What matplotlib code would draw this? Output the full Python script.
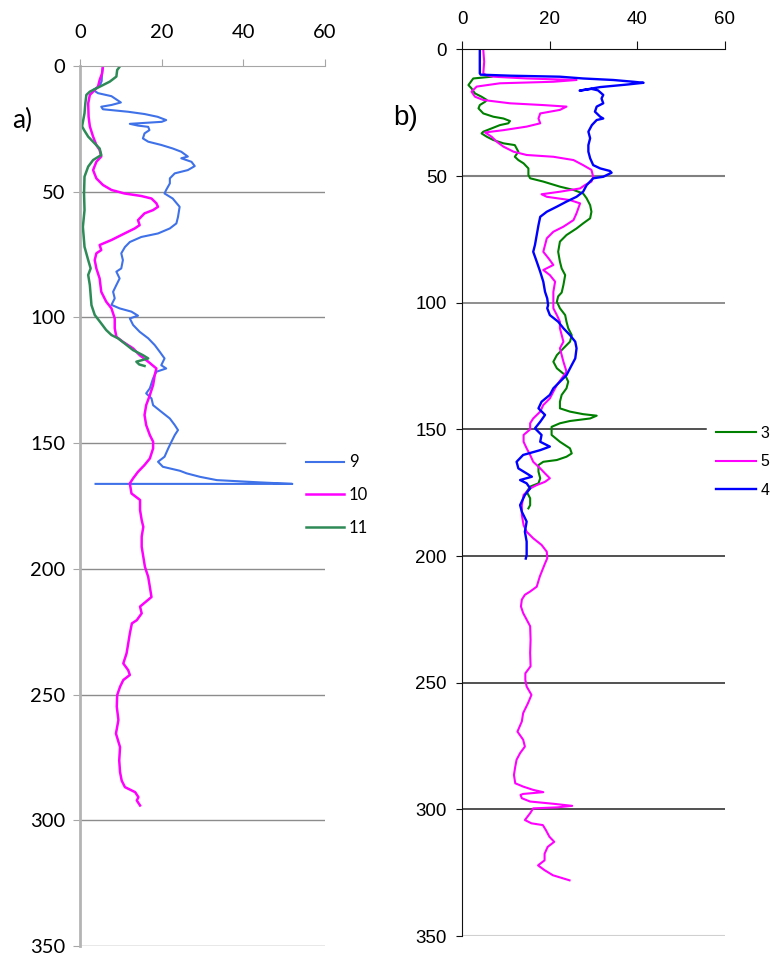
import matplotlib
matplotlib.use('agg')
from matplotlib import pyplot as plt

# ---------------- panel a) : profiles 9, 10, 11 ----------------
a9_val = [5.6, 5.4, 5.3, 4.8, 3.2, 4.4, 7.7, 10.0, 7.7, 5.2, 5.6, 11.8, 15.8, 19.0, 21.1, 20.0,
          12.2, 14.2, 16.7, 17.0, 15.8, 15.4, 16.7, 19.9, 22.7, 24.8, 26.4, 24.8, 27.3, 28.1, 26.4,
          23.2, 22.0, 22.0, 21.1, 20.7, 22.7, 24.4, 24.0, 23.6, 22.0, 19.1, 15.0, 12.2, 11.0, 10.1,
          10.5, 10.1, 8.9, 9.7, 8.9, 8.1, 8.5, 7.7, 9.7, 12.6, 14.2, 12.2, 13.0, 14.6, 16.7, 18.3,
          19.5, 20.7, 19.9, 21.1, 18.7, 17.9, 17.1, 16.2, 17.5, 17.9, 19.9, 22.0, 23.2, 24.0, 23.2,
          22.4, 21.6, 20.7, 19.1, 20.3, 24.5, 26.1, 29.4, 33.5, 44.0, 52.0, 3.8]
a9_dep = [0, 3, 6, 8, 9.5, 10.8, 12, 14.5, 15.5, 16.2, 17.2, 18.2, 19.1, 20.2, 21.5, 22.2,
          23.0, 23.7, 24.2, 25.5, 26.8, 28.8, 30.1, 31.4, 32.8, 34.1, 36.0, 36.7, 38.1, 39.8, 41.4,
          42.7, 44.7, 46.7, 49.3, 50.7, 52.7, 56.0, 60.0, 62.6, 64.6, 66.6, 68.0, 70.0, 72.0, 74.5,
          77.2, 80.5, 81.8, 84.5, 87.1, 89.8, 92.4, 95.0, 96.4, 97.7, 99.3, 100.4, 103.0, 105.7, 108.3, 111.0,
          113.6, 116.3, 119.0, 120.3, 121.6, 124.2, 128.2, 130.2, 132.2, 134.9, 137.5, 140.2, 142.8, 144.8, 146.8,
          149.4, 152.1, 155.4, 157.4, 159.4, 161.0, 162.0, 163.4, 164.7, 165.6, 166.2, 166.2]

a10_val = [5.6, 5.4, 4.8, 4.4, 3.2, 2.4, 2.0, 2.1, 2.4, 3.2, 4.0, 4.8, 5.2, 4.0, 3.2, 4.0, 5.6,
           7.7, 10.9, 15.0, 17.5, 18.7, 19.1, 17.9, 15.8, 14.2, 14.6, 13.4, 10.9, 7.7, 4.8, 5.2, 4.0,
           3.6, 4.0, 4.8, 5.2, 6.4, 7.7, 8.5, 8.5, 8.9, 10.5, 13.0, 14.6, 16.7, 18.7, 18.3, 17.9,
           17.1, 16.2, 15.8, 16.2, 17.1, 17.9, 17.9, 17.1, 15.8, 14.2, 13.0, 12.2, 12.6, 14.7, 14.7,
           15.1, 15.5, 15.1, 15.1, 15.5, 15.9, 16.7, 17.1, 17.5, 14.7, 15.1, 13.9, 12.7, 12.2, 11.8,
           11.4, 10.6, 11.8, 12.2, 10.6, 9.8, 9.1, 9.0, 9.4, 8.8, 9.8, 9.6, 9.8, 10.2, 11.0, 13.5,
           14.3, 13.9, 14.7]
a10_dep = [0.3, 2.9, 5.6, 8.2, 10.2, 11.5, 14.9, 20.2, 24.0, 28.1, 31.4, 33.4, 36.0, 38.1, 41.4, 44.7, 47.3,
           49.3, 50.7, 51.7, 52.7, 54.6, 56.0, 57.3, 58.6, 61.3, 63.3, 64.6, 66.6, 69.2, 71.2, 73.2, 74.5,
           77.2, 80.5, 84.5, 89.8, 93.7, 96.4, 100.4, 104.3, 107.7, 109.7, 112.3, 115.0, 117.6, 120.3, 122.9, 126.9,
           130.9, 134.9, 138.8, 142.8, 146.8, 149.4, 152.1, 156.1, 158.7, 161.4, 164.0, 166.0, 170.0, 172.6, 176.6,
           180.6, 183.3, 187.2, 191.2, 195.2, 199.2, 203.2, 207.2, 211.2, 215.0, 217.7, 220.4, 221.7, 225.7, 229.7,
           233.6, 237.6, 240.3, 242.2, 244.2, 246.9, 250.2, 254.8, 260.1, 265.5, 270.9, 276.2, 280.8, 284.2, 286.8, 288.8,
           290.8, 292.1, 294.1]

a11_val = [9.7, 9.1, 8.9, 7.3, 5.6, 4.0, 2.4, 1.55, 1.3, 1.1, 0.5, 1.0, 2.0, 3.6, 4.8, 5.2, 3.2,
           2.0, 1.1, 0.98, 1.1, 0.7, 1.1, 2.0, 2.6, 2.0, 2.4, 2.6, 2.8, 3.6, 5.2, 6.4, 7.7, 9.3,
           10.9, 13.0, 15.4, 16.7, 13.8, 14.5, 15.8]
a11_dep = [0.3, 1.6, 4.2, 6.2, 7.6, 8.9, 10.2, 11.5, 14.9, 18.8, 24.0, 25.5, 28.1, 30.8, 32.8, 35.4, 37.4,
           40.0, 44.0, 50.7, 57.3, 64.0, 71.9, 77.2, 80.5, 83.1, 87.1, 91.1, 95.1, 99.0, 102.4, 105.0, 107.0, 108.3,
           110.3, 113.0, 115.0, 116.3, 117.6, 118.7, 119.3]

# ---------------- panel b) : profiles 3, 5, 4 ----------------
b3_val = [6.7, 2.5, 1.4, 2.1, 2.9, 4.4, 5.6, 5.2, 4.0, 3.7, 4.8, 7.1, 9.4, 10.9, 10.5, 8.6, 6.7,
          4.8, 4.4, 5.6, 7.1, 9.4, 12.0, 12.8, 12.0, 12.8, 14.0, 15.1, 15.1, 15.5, 18.5, 22.3, 25.4,
          27.6, 28.4, 29.2, 29.5, 29.2, 27.6, 26.1, 23.8, 22.3, 21.9, 22.3, 22.7, 23.5, 23.1, 22.7,
          21.9, 21.6, 22.3, 23.5, 23.8, 24.2, 25.0, 24.6, 23.1, 21.6, 20.8, 21.6, 23.5, 24.2, 23.8,
          22.7, 22.3, 22.3, 24.6, 27.6, 30.7, 29.2, 24.6, 22.3, 20.4, 20.4, 22.3, 24.6, 25.0, 23.8,
          21.6, 18.5, 17.4, 17.4, 17.8, 17.4, 15.5, 14.7, 15.5, 15.5, 15.1]
b3_dep = [10.8, 11.5, 14.1, 15.4, 17.4, 18.7, 20.0, 20.7, 22.0, 23.3, 25.3, 26.6, 27.3, 28.3, 29.2, 29.9, 31.2,
          32.5, 33.2, 34.5, 35.8, 37.1, 37.8, 40.4, 42.4, 43.7, 45.0, 47.0, 49.6, 50.9, 52.2, 54.2, 55.5,
          56.9, 58.8, 61.5, 64.1, 66.7, 68.7, 70.7, 73.3, 75.9, 79.9, 83.8, 86.5, 89.1, 93.0, 96.0,
          97.5, 99.6, 102.2, 104.9, 107.5, 110.1, 112.8, 115.4, 118.0, 120.7, 123.3, 125.9, 128.6, 131.2, 133.8,
          136.4, 139.1, 141.7, 143.0, 144.0, 144.6, 145.7, 146.7, 147.6, 149.0, 152.2, 154.9, 157.5, 159.5, 160.8,
          162.1, 162.8, 164.1, 166.7, 169.3, 171.3, 172.6, 174.6, 177.2, 179.9, 181.2]

b5_val = [4.8, 5.0, 4.8, 5.5, 7.1, 14.7, 26.1, 20.8, 8.6, 3.3, 2.1, 2.9, 4.8, 10.9, 18.5, 23.8,
          22.3, 17.8, 17.4, 17.8, 14.7, 9.4, 5.2, 6.7, 7.9, 9.4, 11.7, 14.7, 20.8, 25.4, 27.6, 29.5,
          29.9, 29.5, 28.0, 26.9, 22.3, 18.1, 19.3, 24.6, 26.9, 26.5, 26.1, 25.4, 23.1, 20.8, 19.3,
          18.9, 18.5, 19.7, 20.8, 18.5, 20.0, 21.2, 20.8, 20.8, 20.8, 21.6, 22.3, 22.3, 22.7, 23.1,
          22.3, 23.1, 23.8, 22.7, 21.6, 20.8, 20.0, 18.5, 17.8, 16.2, 15.5, 15.5, 14.0, 14.0, 14.7,
          15.5, 16.2, 17.8, 18.9, 20.0, 18.9, 17.0, 15.5, 14.0, 13.6, 13.6, 14.0, 14.7, 16.2, 18.1,
          19.3, 19.4, 18.9, 17.7, 17.0, 15.5, 14.3, 13.6, 13.4, 13.9, 14.7, 15.5, 15.6, 15.5, 15.6,
          14.4, 14.4, 14.7, 15.8, 15.0, 13.9, 13.6, 12.6, 13.9, 14.3, 13.2, 12.4, 12.1, 11.8, 12.1,
          13.9, 16.2, 18.5, 13.9, 13.3, 13.6, 15.5, 20.9, 25.1, 21.7, 16.2, 15.5, 14.3, 15.8, 18.4,
          19.1, 19.9, 21.0, 19.5, 18.8, 18.8, 17.3, 18.8, 20.7, 24.5]
b5_dep = [0.3, 4.9, 9.5, 10.2, 10.8, 11.5, 12.1, 12.8, 13.4, 14.7, 16.7, 18.7, 20.0, 21.3, 22.0, 22.6,
          23.9, 25.3, 27.3, 29.2, 30.5, 31.9, 32.8, 34.5, 36.5, 38.4, 40.4, 41.7, 42.4, 43.7, 45.7, 47.6,
          50.3, 52.2, 53.6, 54.9, 56.2, 57.2, 58.2, 59.5, 60.8, 62.8, 64.7, 67.4, 70.0, 72.0, 74.6,
          77.2, 79.9, 82.5, 85.1, 87.1, 89.1, 91.7, 95.7, 98.3, 102.2, 104.9, 107.5, 110.1, 112.8, 115.4,
          118.0, 123.3, 127.2, 129.9, 132.5, 135.1, 137.8, 140.4, 143.0, 145.7, 147.6, 150.0, 152.2, 154.9, 157.5,
          160.1, 162.8, 165.4, 167.4, 169.3, 170.7, 172.0, 173.3, 175.9, 179.9, 183.8, 187.8, 190.4, 193.0, 195.6,
          198.3, 200.9, 202.9, 208.1, 212.1, 214.0, 215.3, 217.2, 219.9, 222.5, 225.1, 227.7, 233.0, 238.2, 243.5,
          246.3, 248.9, 251.5, 254.8, 258.1, 262.0, 265.3, 269.3, 272.5, 275.2, 277.8, 280.4, 283.1, 286.4, 289.7,
          291.0, 292.3, 293.2, 293.9, 294.3, 295.6, 296.9, 297.8, 298.6, 299.2, 299.6, 301.5, 304.2, 305.5, 306.2,
          308.2, 310.8, 312.8, 314.8, 317.5, 320.1, 322.1, 324.0, 326.0, 328.0]

b4_val = [4.0, 4.0, 4.0, 4.2, 10.9, 22.3, 27.6, 34.5, 39.1, 41.4, 37.6, 31.5, 26.8, 29.5, 31.0,
          32.2, 31.8, 32.2, 30.7, 30.3, 31.5, 32.2, 30.7, 29.6, 28.8, 29.2, 28.8, 28.8, 29.2, 29.9,
          31.5, 33.7, 34.1, 32.2, 29.9, 28.4, 27.6, 26.1, 23.8, 21.6, 19.3, 17.8, 17.4, 17.0, 16.6,
          16.2, 17.0, 17.8, 18.5, 18.9, 19.4, 19.6, 19.4, 20.0, 21.9, 23.1, 24.6, 25.8, 26.1, 25.8,
          25.0, 23.8, 22.3, 20.8, 20.0, 18.1, 17.4, 18.9, 17.8, 16.6, 18.1, 17.8, 20.0, 17.8, 13.9,
          12.4, 12.8, 14.7, 15.9, 13.2, 14.7, 15.5, 14.3, 13.2, 13.6, 14.7, 14.3, 14.7, 14.7, 14.5]
b4_dep = [0.3, 5.0, 9.5, 10.0, 10.4, 10.8, 11.5, 12.1, 12.8, 13.2, 13.9, 14.9, 16.3, 15.6, 16.2,
          18.0, 19.4, 21.3, 22.6, 24.6, 26.6, 27.3, 27.9, 29.9, 32.5, 35.1, 37.8, 40.4, 43.0, 45.7,
          47.0, 48.0, 48.7, 50.3, 50.9, 53.6, 56.2, 58.2, 60.1, 62.1, 64.1, 66.1, 69.4, 73.3, 77.2,
          79.9, 83.8, 87.8, 91.7, 95.7, 98.3, 101.0, 102.2, 104.9, 107.5, 110.1, 112.8, 115.4, 118.0, 122.0,
          124.6, 128.6, 131.2, 133.8, 136.4, 139.1, 141.7, 144.3, 147.0, 149.6, 152.2, 154.9, 156.8, 158.2, 160.1,
          162.8, 165.4, 167.4, 168.7, 170.0, 171.3, 173.3, 175.9, 179.9, 182.5, 186.4, 190.4, 194.3, 199.6, 201.0]

depth_ticks = [0, 50, 100, 150, 200, 250, 300, 350]
value_ticks = [0, 20, 40, 60]

fig = plt.figure(figsize=(7.71, 9.58), dpi=100)

# ---------- a) ----------
font_a = ['Lato', 'DejaVu Sans']
ax_a = fig.add_axes([0.1038, 0.0125, 0.3177, 0.9186])
ax_a.plot(a9_val, a9_dep, color='#3f71e8', lw=1.5, label='9')
ax_a.plot(a10_val, a10_dep, color='#ff00ff', lw=1.8, label='10')
ax_a.plot(a11_val, a11_dep, color='#2e8b57', lw=1.8, label='11')
ax_a.set_xlim(0, 60)
ax_a.set_ylim(350, 0)
ax_a.xaxis.tick_top()
ax_a.set_xticks(value_ticks)
ax_a.set_yticks(depth_ticks)
for d in depth_ticks[1:]:
    ax_a.axhline(d, xmax=0.837 if d == 150 else 1, color='#8c8c8c', lw=1, zorder=1)
for s in ['right', 'bottom']:
    ax_a.spines[s].set_visible(False)
ax_a.spines['left'].set_color('#b4b4b4')
ax_a.spines['left'].set_linewidth(2)
ax_a.spines['top'].set_color('#a6a6a6')
ax_a.tick_params(axis='x', length=5.3, color='#a6a6a6', pad=13, labelsize=14.5)
ax_a.tick_params(axis='y', length=5, color='#a6a6a6', pad=5.5, labelsize=14.5)
for lab in ax_a.get_xticklabels() + ax_a.get_yticklabels():
    lab.set_family(font_a)
ax_a.legend(loc='center left', bbox_to_anchor=(0.921, 0.5125), frameon=False,
            prop={'family': font_a, 'size': 12}, handlelength=2.3, handletextpad=0.3,
            labelspacing=1.0, borderpad=0, borderaxespad=0)
fig.text(12 / 771, 1 - 120 / 958, 'a)', fontsize=19, va='center', family=font_a)

# ---------- b) ----------
font_b = ['Liberation Sans', 'DejaVu Sans']
ax_b = fig.add_axes([0.5996, 0.0229, 0.3407, 0.9256])
ax_b.plot(b3_val, b3_dep, color='#008000', lw=1.5, label='3')
ax_b.plot(b5_val, b5_dep, color='#ff00ff', lw=1.5, label='5')
ax_b.plot(b4_val, b4_dep, color='#0000ff', lw=1.7, label='4')
ax_b.set_xlim(0, 60)
ax_b.set_ylim(350, 0)
ax_b.xaxis.tick_top()
ax_b.set_xticks(value_ticks)
ax_b.set_yticks(depth_ticks)
grid_b = {50: '#808080', 100: '#707070', 150: '#222222', 200: '#222222',
          250: '#222222', 300: '#222222', 350: '#d0d0d0'}
for d in depth_ticks[1:]:
    ax_b.axhline(d, xmax=0.9265 if d == 150 else 1, color=grid_b[d],
                 lw=1.5 if d in (50, 350) else 1.1, zorder=1)
for s in ['right', 'bottom']:
    ax_b.spines[s].set_visible(False)
ax_b.spines['left'].set_color('#111111')
ax_b.spines['top'].set_color('#111111')
ax_b.tick_params(axis='x', length=5.5, color='#111111', pad=9.9, labelsize=13.5)
ax_b.tick_params(axis='y', length=4.6, color='#111111', pad=6.5, labelsize=13.5)
for lab in ax_b.get_xticklabels() + ax_b.get_yticklabels():
    lab.set_family(font_b)
ax_b.legend(loc='center left', bbox_to_anchor=(0.9646, 0.535), frameon=False,
            prop={'family': font_b, 'size': 11.4}, handlelength=2.53, handletextpad=0.3,
            labelspacing=0.85, borderpad=0, borderaxespad=0)
fig.text(393 / 771, 1 - 118 / 958, 'b)', fontsize=20, va='center', family=font_b)

fig.savefig('out.png', dpi=100)
